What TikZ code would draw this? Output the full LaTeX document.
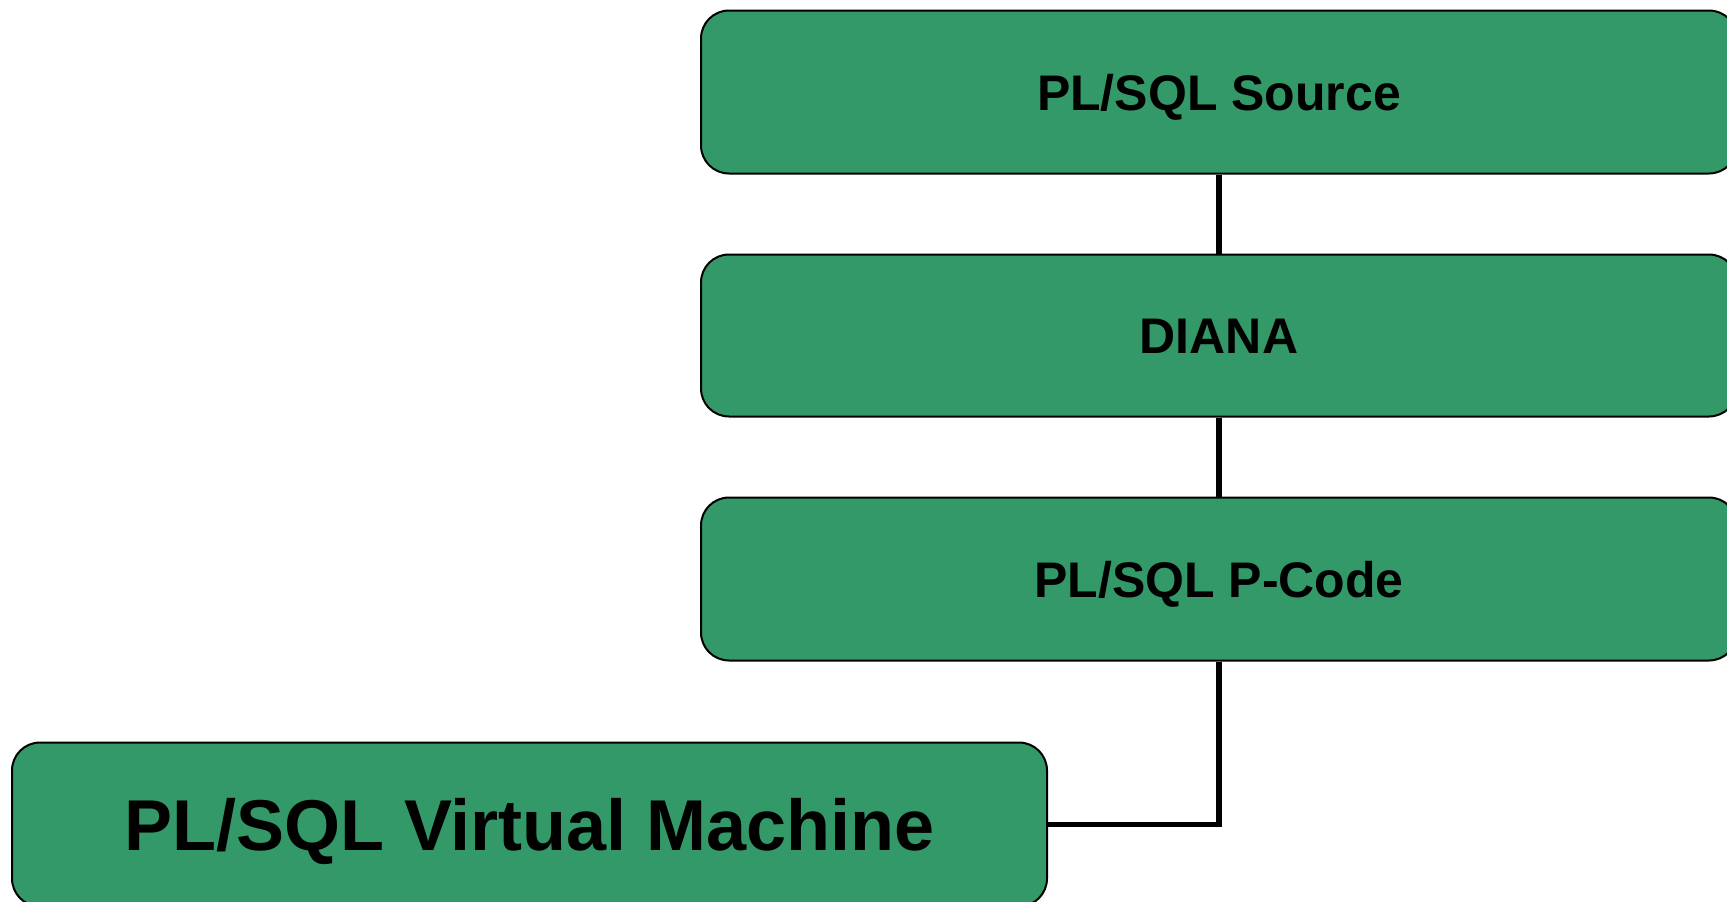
\documentclass[tikz,border=0pt]{standalone}
\usepackage{fontspec}
\setmainfont{Liberation Sans}
\definecolor{boxgreen}{RGB}{52,153,104}
\begin{document}
\begin{tikzpicture}[x=1pt,y=-1pt,
  stagebox/.style={draw=black, line width=2pt, fill=boxgreen, rounded corners=28pt,
    inner sep=0pt, text height=36pt, text depth=0pt, font=\bfseries\fontsize{50}{60}\selectfont},
  link/.style={draw=black, line width=5.5pt}]
\useasboundingbox (0,0) rectangle (1727,902);
\node[stagebox, minimum width=1036pt, minimum height=163pt] (src) at (1219,92) {PL/SQL Source};
\node[stagebox, minimum width=1036pt, minimum height=162pt] (diana) at (1219,335.5) {DIANA};
\node[stagebox, minimum width=1036pt, minimum height=163pt] (pcode) at (1219,579) {PL/SQL P-Code};
\node[stagebox, minimum width=1035pt, minimum height=164pt, text height=52pt, font=\bfseries\fontsize{72}{86}\selectfont] (vm) at (529.5,824.5) {PL/SQL Virtual Machine};
\draw[link] (src.south) -- (diana.north);
\draw[link] (diana.south) -- (pcode.north);
\draw[link] (pcode.south) |- (vm.east);
\end{tikzpicture}
\end{document}
